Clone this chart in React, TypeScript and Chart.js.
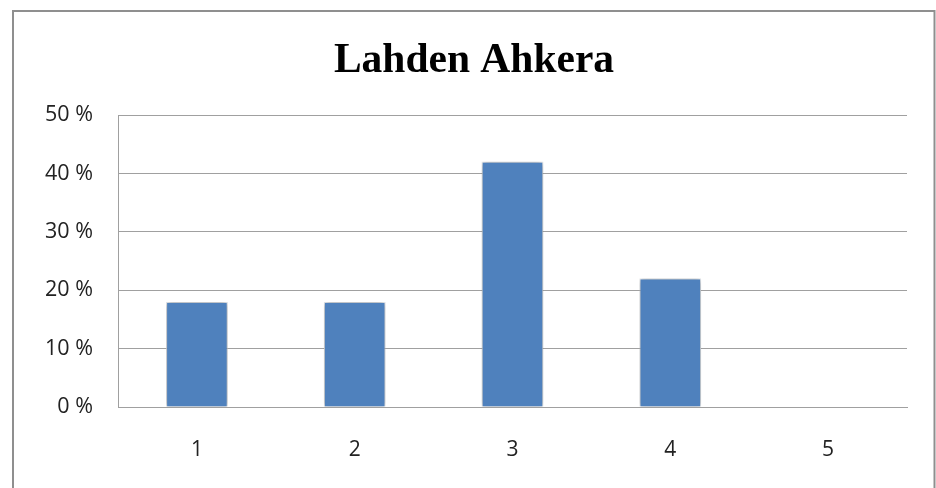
import React, { useEffect, useRef } from "react";
import { Chart, registerables } from "chart.js";

Chart.register(...registerables);

const categories = ["1", "2", "3", "4", "5"];
const values = [18, 18, 42, 22, 0];
const yTicks = [0, 10, 20, 30, 40, 50];
const title = "Lahden Ahkera";

const frame = {
  id: "frame",
  beforeDraw(chart: any) {
    const ctx = chart.ctx;
    ctx.save();
    ctx.fillStyle = "#ffffff";
    ctx.fillRect(0, 0, chart.width, chart.height);
    ctx.strokeStyle = "#8f8f8f";
    ctx.lineWidth = 2;
    ctx.strokeRect(13, 11, 921.5, 500);
    ctx.restore();
  },
};

const shadow = {
  id: "barShadow",
  beforeDatasetsDraw(chart: any) {
    const ctx = chart.ctx;
    ctx.save();
    ctx.shadowColor = "rgba(0,0,0,0.45)";
    ctx.shadowBlur = 6;
    ctx.shadowOffsetX = 0;
    ctx.shadowOffsetY = 0;
  },
  afterDatasetsDraw(chart: any) {
    chart.ctx.restore();
  },
};

export default function App() {
  const ref = useRef<HTMLCanvasElement | null>(null);
  useEffect(() => {
    if (!ref.current) return;
    const chart = new Chart(ref.current, {
      type: "bar",
      data: {
        labels: categories,
        datasets: [
          {
            data: values,
            backgroundColor: "#4F81BD",
            borderColor: "#f2f6fb",
            borderWidth: 1,
            categoryPercentage: 1,
            barPercentage: 0.39,
          },
        ],
      },
      plugins: [frame, shadow],
      options: {
        animation: false,
        responsive: false,
        maintainAspectRatio: false,
        layout: { padding: { left: 41, right: 29, top: 0, bottom: 0 } },
        plugins: {
          legend: { display: false },
          tooltip: { enabled: false },
          title: {
            display: true,
            text: title,
            color: "#000000",
            font: { family: "'Liberation Serif', 'Times New Roman', serif", size: 41.5, weight: "bold" },
            padding: { top: 36, bottom: 29.2 },
          },
        },
        scales: {
          x: {
            grid: { display: false, drawTicks: false },
            border: { display: true, color: "#a0a0a0", width: 1 },
            ticks: {
              color: "#222222",
              padding: 30,
              font: { family: "'Open Sans', sans-serif", size: 21 },
            },
            afterFit(scale: any) {
              scale.height = 81;
            },
          },
          y: {
            min: 0,
            max: 50,
            afterBuildTicks(scale: any) {
              scale.ticks = yTicks.map((v) => ({ value: v }));
            },
            grid: { color: "#a0a0a0", lineWidth: 1, drawTicks: false },
            border: { display: true, color: "#a0a0a0", width: 1 },
            ticks: {
              color: "#222222",
              padding: 25,
              font: { family: "'Open Sans', sans-serif", size: 21.5 },
              callback: (v: any) => v + " %",
            },
            afterFit(scale: any) {
              scale.width = 77;
            },
          },
        },
      },
    });
    return () => chart.destroy();
  }, []);
  return (
    <div style={{ position: "fixed", left: 0, top: 0, width: 936, height: 488 }}>
      <canvas ref={ref} width={936} height={488} style={{ display: "block", width: 936, height: 488 }} />
    </div>
  );
}
